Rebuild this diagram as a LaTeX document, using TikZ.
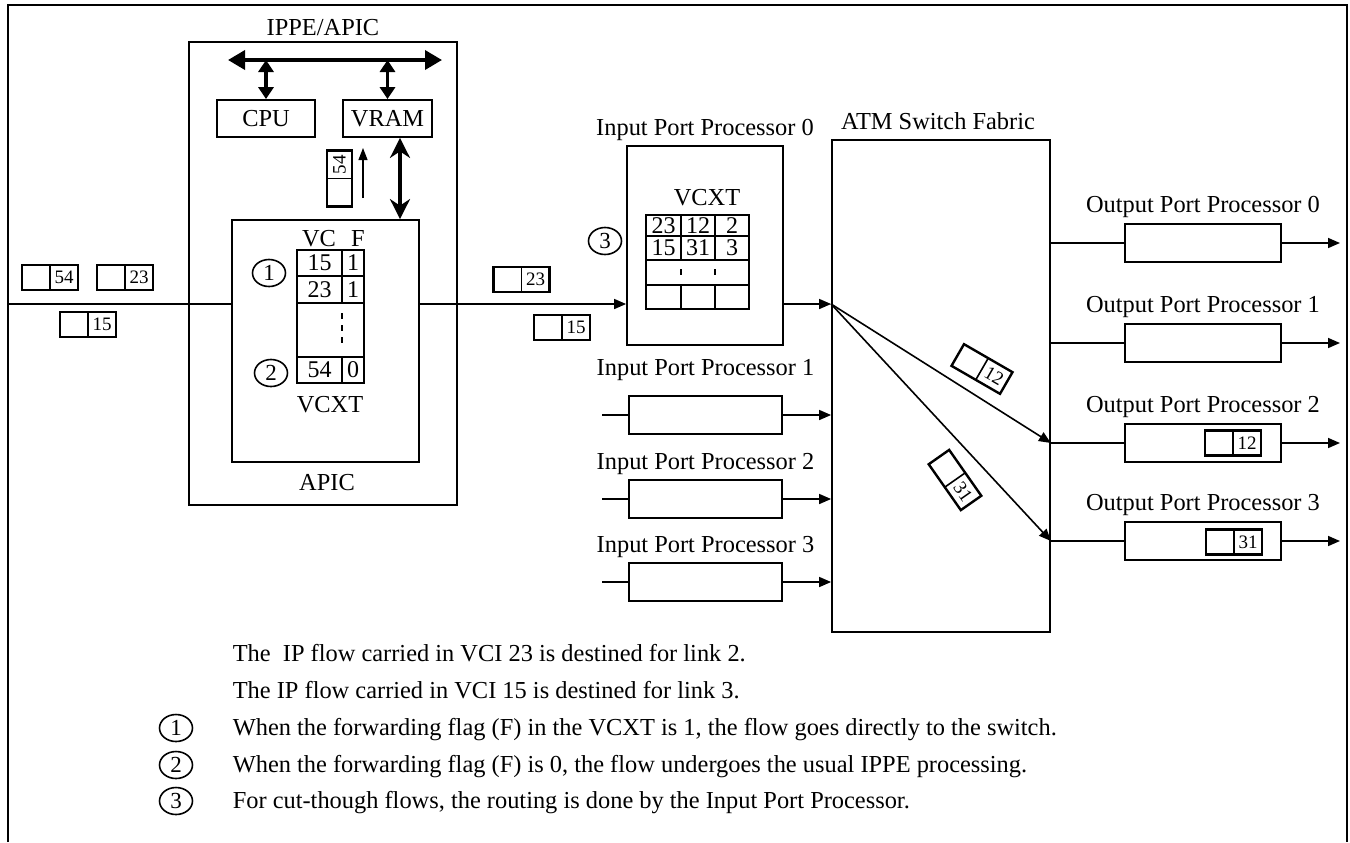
\documentclass[tikz,border=0pt]{standalone}
\usepackage{fontspec}
\setmainfont{Liberation Serif}
\usetikzlibrary{arrows.meta,shapes.geometric,calc}
\begin{document}
\begin{tikzpicture}[x=0.5pt,y=-0.5pt,line width=0.8pt,
  font=\fontsize{12.2}{14}\selectfont,
  box/.style={draw,rectangle,inner sep=0pt,line width=0.9pt},
  wh/.style 2 args={minimum width=#1*0.5pt,minimum height=#2*0.5pt},
  lbl/.style={inner sep=0pt,anchor=base},
  txt/.style={inner sep=0pt,anchor=base west},
  circ/.style={draw,ellipse,inner sep=0pt,line width=0.8pt,minimum width=16.5pt,minimum height=13.5pt,font=\fontsize{11.5}{12}\selectfont},
  tnum/.style={inner sep=0pt,font=\fontsize{12}{13}\selectfont},
  arr/.style={-{Triangle[length=6pt,width=5pt]}},
  thinarr/.style={line width=0.6pt,-{Triangle[length=6pt,width=4.5pt]}},
  dbl/.style={line width=1.8pt,{Triangle[length=6pt,width=7.5pt]}-{Triangle[length=6pt,width=7.5pt]}},
  bus/.style={line width=1.8pt,{Triangle[length=8.5pt,width=9.5pt]}-{Triangle[length=8.5pt,width=9.5pt]}},
  bigdbl/.style={line width=2pt,{Stealth[length=10pt,width=10pt]}-{Stealth[length=10pt,width=10pt]}},
  cnum/.style={inner sep=0pt,font=\fontsize{9.5}{10}\selectfont},
  cell/.pic={
    \draw[line width=1.2pt] (-28,-12.5) rectangle (28,12.5);
    \draw[line width=0.8pt] (0,-12.5) -- (0,12.5);
    \node[cnum,transform shape] at (14,0) {#1};
  }
]
\useasboundingbox (0,0) rectangle (1350,842);
% outer frame
\draw[line width=1pt] (8,842) -- (8,5) -- (1347,5) -- (1347,842);

% ---------------- IPPE/APIC ----------------
\node[box,wh={268}{463}] (ippe) at (323,273.5) {};
\node[lbl] (ippelbl) at (323,35) {IPPE/APIC};
\node[box,wh={98}{37}] (cpu) at (266,118.5) {CPU};
\node[box,wh={89}{37}] (vram) at (387.5,118.5) {VRAM};
\node[box,wh={187}{242}] (apic) at (325.5,341) {};
\node[lbl] (apiclbl) at (327,490) {APIC};
\coordinate (busL) at (228,60);
\coordinate (busR) at (442,60);
\draw[bus] (busL) -- (busR);
\draw[dbl] (cpu.north |- busL) -- (cpu.north);
\draw[dbl] (vram.north |- busL) -- (vram.north);
\coordinate (va) at (400,0);
\draw[bigdbl] (vram.south -| va) -- (apic.north -| va);
\pic[rotate=90] at (339.5,178.5) {cell=54};
\coordinate (t1) at (363,198);
\coordinate (t2) at (363,148);
\draw[thinarr] (t1) -- (t2);

% APIC VCXT table
\node[inner sep=0pt] (vch) at (319,239) {VC};
\node[inner sep=0pt] (fh) at (358,239) {F};
\draw (297,250) rectangle (364,383);
\draw (297,276) -- (364,276);
\draw (297,303) -- (364,303);
\draw (297,357) -- (364,357);
\draw (342,250) -- (342,303);
\draw (342,357) -- (342,383);
\draw[dash pattern=on 3pt off 3pt] (342,313) -- (342,347);
\node[tnum] at (319.5,263) {15};
\node[tnum] at (353,263) {1};
\node[tnum] at (319.5,289.5) {23};
\node[tnum] at (353,289.5) {1};
\node[tnum] at (319.5,370) {54};
\node[tnum] at (353,370) {0};
\node[inner sep=0pt] (vcxt1) at (330,405) {VCXT};
\node[circ] (c1) at (269,273) {1};
\node[circ] (c2) at (271,373) {2};

% input link and cells
\coordinate (inL) at (8,304);
\draw (inL) -- (inL -| apic.west);
\pic at (50,277.5) {cell=54};
\pic at (125,277.5) {cell=23};
\pic at (88,324.5) {cell=15};
\pic at (521.5,279.5) {cell=23};
\pic at (562,327.5) {cell=15};

% ---------------- Input port processors ----------------
\node[box,wh={156}{199}] (ipp0) at (705,245.5) {};
\node[lbl] (ipp0lbl) at (705,135) {Input Port Processor 0};
\node[inner sep=0pt] (vcxt2) at (707,198) {VCXT};
\draw (646,215) rectangle (749,309);
\foreach \yy in {236,260,285} \draw (646,\yy) -- (749,\yy);
\draw (681,215) -- (681,260);
\draw (715,215) -- (715,260);
\draw (681,285) -- (681,309);
\draw (715,285) -- (715,309);
\draw (681,269) -- (681,275);
\draw (715,269) -- (715,275);
\node[tnum] at (663.5,225.5) {23};
\node[tnum] at (698,225.5) {12};
\node[tnum] at (732,225.5) {2};
\node[tnum] at (663.5,248) {15};
\node[tnum] at (698,248) {31};
\node[tnum] at (732,248) {3};
\node[circ] (c3) at (605,241) {3};
\draw[arr] (inL -| apic.east) -- (inL -| ipp0.west);

\node[box,wh={218}{492}] (atm) at (941,386) {};
\node[lbl] (atmlbl) at (938,129) {ATM Switch Fabric};
\coordinate (fan) at (inL -| atm.west);
\draw[arr] (inL -| ipp0.east) -- (fan);

\node[box,wh={153}{38}] (ipp1) at (705.5,415) {};
\node[box,wh={153}{38}] (ipp2) at (705.5,499) {};
\node[box,wh={153}{38}] (ipp3) at (705.5,582) {};
\node[lbl] at (705.5,375) {Input Port Processor 1};
\node[lbl] at (705.5,469) {Input Port Processor 2};
\node[lbl] at (705.5,552) {Input Port Processor 3};
\coordinate (istart) at (602,0);
\foreach \n in {ipp1,ipp2,ipp3}{
  \draw (\n.west -| istart) -- (\n.west);
  \draw[arr] (\n.east) -- (\n.east -| atm.west);
}

% ---------------- Output port processors ----------------
\node[box,wh={156}{38}] (opp0) at (1203,243) {};
\node[box,wh={156}{38}] (opp1) at (1203,343) {};
\node[box,wh={156}{38}] (opp2) at (1203,443) {};
\node[box,wh={156}{38}] (opp3) at (1203,541) {};
\node[lbl] at (1203,212) {Output Port Processor 0};
\node[lbl] at (1203,312) {Output Port Processor 1};
\node[lbl] at (1203,412) {Output Port Processor 2};
\node[lbl] at (1203,510) {Output Port Processor 3};
\coordinate (oend) at (1340,0);
\foreach \n in {opp0,opp1,opp2,opp3}{
  \draw (\n.west -| atm.east) -- (\n.west);
  \draw[arr] (\n.east) -- (\n.east -| oend);
}
\pic at (1233,443) {cell=12};
\pic at (1234,542) {cell=31};

% fan-out inside switch
\draw[arr] (fan) -- (opp2.west -| atm.east);
\draw[arr] (fan) -- (opp3.west -| atm.east);
\pic[rotate=-30] at (982,369) {cell=12};
\pic[rotate=-55] at (955,480) {cell=31};

% ---------------- notes ----------------
\node[txt] (n1) at (232,661) {The\ \ IP flow carried in VCI 23 is destined for link 2.};
\node[txt] (n2) at (232,698) {The IP flow carried in VCI 15 is destined for link 3.};
\node[circ] (k1) at (176,728) {1};
\node[circ] (k2) at (176,765) {2};
\node[circ] (k3) at (176,801) {3};
\node[txt] (n3) at (232,735) {When the forwarding flag (F) in the VCXT is 1, the flow goes directly to the switch.};
\node[txt] (n4) at (232,772) {When the forwarding flag (F) is 0, the flow undergoes the usual IPPE processing.};
\node[txt] (n5) at (232,808) {For cut-though flows, the routing is done by the Input Port Processor.};
\end{tikzpicture}
\end{document}
